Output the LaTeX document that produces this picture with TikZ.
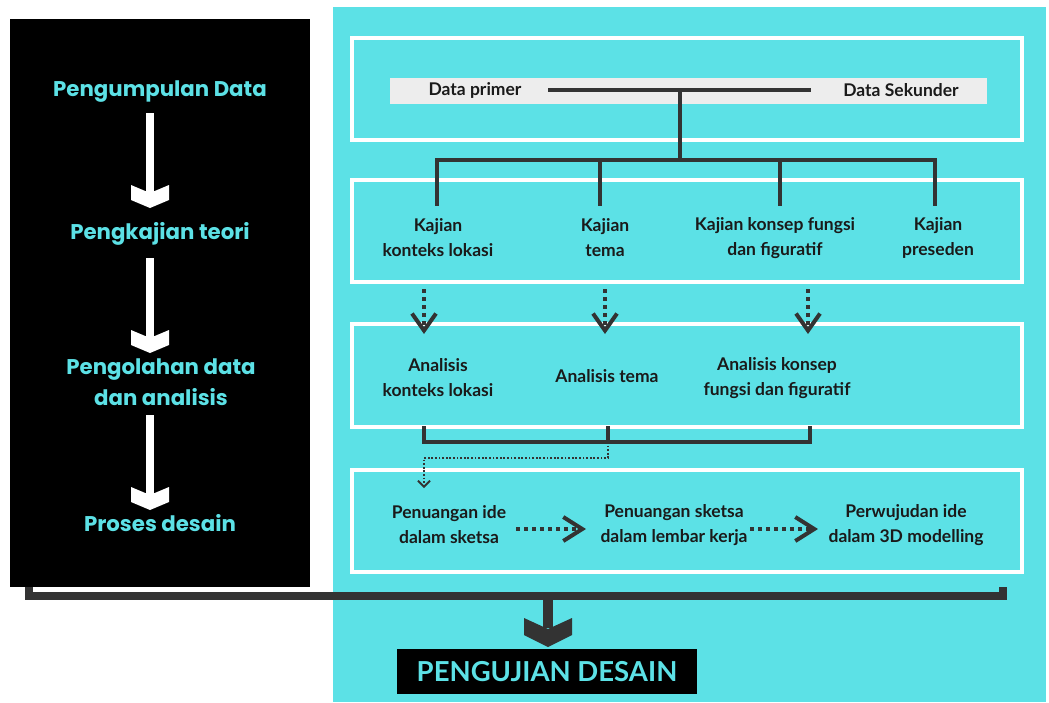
\documentclass[tikz,border=0pt]{standalone}
\usepackage{fontspec}
\setmainfont{Lato}
\newfontfamily\pop{Poppins}
\usetikzlibrary{arrows.meta}
\definecolor{cyanbg}{HTML}{5CE1E6}
\definecolor{dark}{HTML}{333333}
\definecolor{barg}{HTML}{EDEDED}
\definecolor{txt}{HTML}{1A1A1A}
\tikzset{
  frame/.style={draw=white, line width=4pt},
  lbl/.style={font=\bfseries\fontsize{17.5}{25}\selectfont, text=txt, align=center, inner sep=0pt},
  side/.style={font=\pop\bfseries\fontsize{21.3}{31}\selectfont, text=cyanbg, align=center, inner sep=0pt},
  tree/.style={draw=dark, line width=4pt},
  dotarr/.style={draw=dark, line width=4pt, dash pattern=on 4pt off 4pt,
     -{Straight Barb[length=17pt, width=24pt, line width=4pt]}},
  dotarrh/.style={draw=dark, line width=4pt, dash pattern=on 4pt off 4pt,
     -{Straight Barb[length=19pt, width=24pt, line width=4pt]}},
  thindot/.style={draw=dark, line width=1.8pt, dash pattern=on 1.8pt off 1.8pt,
     -{Straight Barb[length=6pt, width=12pt, line width=1.8pt]}},
  downarr/.pic={
    \fill[white] (-4,0) rectangle (4,82);
    \fill[white] (-19,72) -- (0,80) -- (19,72) -- (19,87) -- (0,95) -- (-19,87) -- cycle;
  }
}
\begin{document}
\begin{tikzpicture}[x=1pt,y=-1pt]
\useasboundingbox (0,0) rectangle (1049,702);
\fill[white] (0,0) rectangle (1049,702);
% panels
\fill[black] (10,19) rectangle (310,587);
\fill[cyanbg] (333,7) rectangle (1046,702);

% left column
\node[side] (l1) at (160,92) {Pengumpulan Data};
\node[side] (l2) at (160,234) {Pengkajian teori};
\node[side] (l3) at (161,382) {Pengolahan data\\dan analisis};
\node[side] (l4) at (160,523) {Proses desain};
\pic at (150,113) {downarr};
\pic at (150,258) {downarr};
\pic at (150,415) {downarr};

% frames
\draw[frame] (352,38) rectangle (1022,140);
\draw[frame] (352,180) rectangle (1022,282);
\draw[frame] (352,324) rectangle (1022,427);
\draw[frame] (352,470) rectangle (1022,572);

% data bar
\fill[barg] (390,78) rectangle (987,104);
\node[lbl] (dp) at (475,90) {Data primer};
\node[lbl] (ds) at (901,90) {Data Sekunder};
\coordinate (pl) at (548,90);
\coordinate (pr) at (811,90);
\coordinate (pm) at (680,90);
\coordinate (hub) at (680,160);
\draw[tree] (pl) -- (pr);
\draw[tree] (pm) -- (hub);

% kajian
\node[lbl] (k1) at (438,238) {Kajian\\konteks lokasi};
\node[lbl] (k2) at (605,238) {Kajian\\tema};
\node[lbl] (k3) at (775,238) {Kajian konsep fungsi\\dan figuratif};
\node[lbl] (k4) at (938,238) {Kajian\\preseden};
\coordinate (h1) at (437,160);
\coordinate (h2) at (600,160);
\coordinate (h3) at (780,160);
\coordinate (h4) at (935,160);
\draw[tree, line cap=rect] (h1) -- (h4);
\draw[tree] (h1) -- ++(0,46);
\draw[tree] (h2) -- ++(0,46);
\draw[tree] (h3) -- ++(0,46);
\draw[tree] (h4) -- ++(0,46);

% dotted arrows down
\coordinate (d1a) at (424,289); \coordinate (d1b) at (424,334);
\coordinate (d2a) at (605,289); \coordinate (d2b) at (605,334);
\coordinate (d3a) at (808,289); \coordinate (d3b) at (808,334);
\draw[dotarr] (d1a) -- (d1b);
\draw[dotarr] (d2a) -- (d2b);
\draw[dotarr] (d3a) -- (d3b);

% analisis
\node[lbl] (a1) at (438,378) {Analisis\\konteks lokasi};
\node[lbl] (a2) at (607,376) {Analisis tema};
\node[lbl] (a3) at (777,378) {Analisis konsep\\fungsi dan figuratif};
\coordinate (b1) at (424,426);
\coordinate (b2) at (608,426);
\coordinate (b3) at (810,426);
\draw[tree, line join=miter] (b1) -- ++(0,16) -| (b3);
\draw[tree] (b2) -- ++(0,16) coordinate (bm);
\draw[thindot] (bm) -- ++(0,16) -| (424,488);

% proses
\node[lbl] (p1) at (449,525) {Penuangan ide\\dalam sketsa};
\node[lbl] (p2) at (674,525) {Penuangan sketsa\\dalam lembar kerja};
\node[lbl] (p3) at (906,525) {Perwujudan ide\\dalam 3D modelling};
\draw[dotarrh] (516,529) -- (586,529);
\draw[dotarrh] (750,529) -- (818,529);

% bottom bracket
\coordinate (bl) at (29,587);
\coordinate (br) at (1003,587);
\draw[draw=dark, line width=8pt, line join=miter] (bl) -- (29,596) -- (1003,596) -- (br);

% result
\node[fill=black, minimum width=300pt, minimum height=45pt, inner sep=0pt,
      text=cyanbg, font=\bfseries\fontsize{27.5}{30}\selectfont] (res) at (547,671.5) {PENGUJIAN DESAIN};
\fill[dark] (543,596) rectangle (553,628);
\fill[dark] (524,618) -- (548,629) -- (572,618) -- (572,635) -- (548,647) -- (524,635) -- cycle;
\end{tikzpicture}
\end{document}
